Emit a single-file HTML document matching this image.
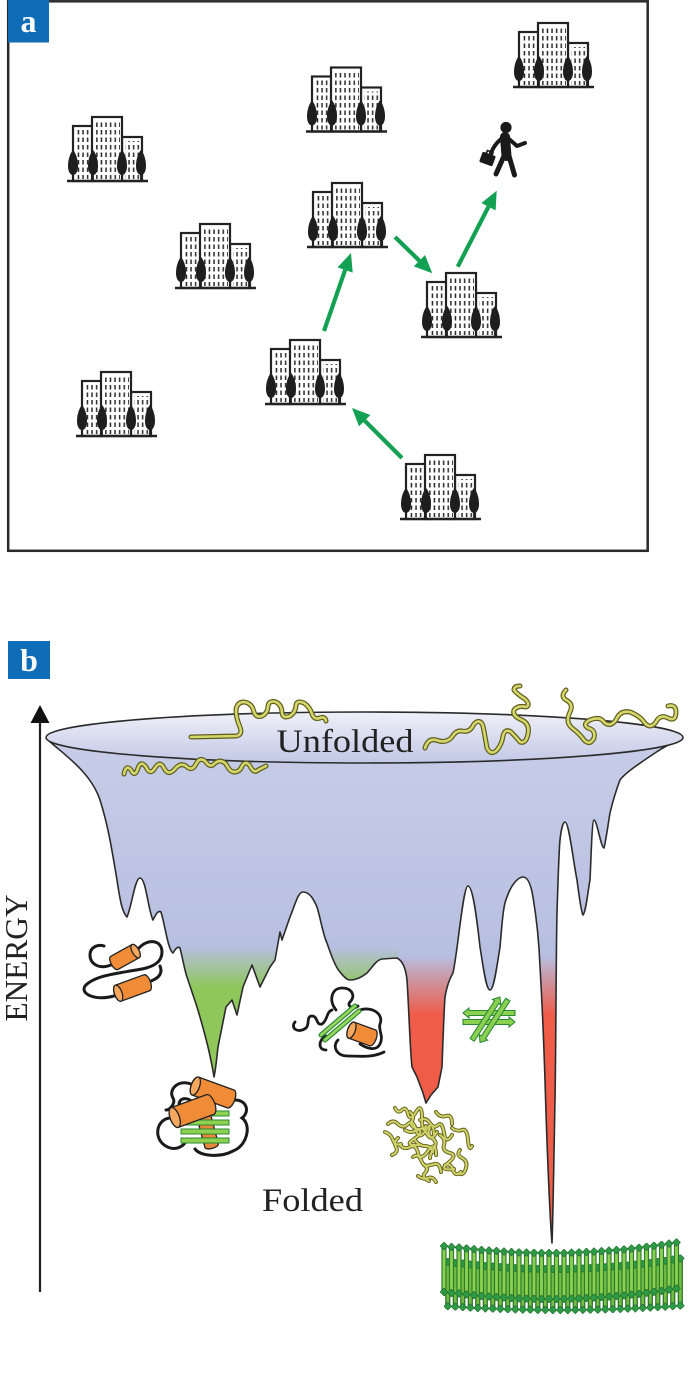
<!DOCTYPE html>
<html><head><meta charset="utf-8"><style>html,body{margin:0;padding:0;background:#fff}svg{display:block}</style></head>
<body>
<svg width="690" height="1385" viewBox="0 0 690 1385" xmlns="http://www.w3.org/2000/svg" xmlns:xlink="http://www.w3.org/1999/xlink" font-family="'Liberation Serif', serif">
<defs>
  <pattern id="win" patternUnits="userSpaceOnUse" width="4.6" height="7.5">
    <rect x="1.5" y="1.5" width="1.5" height="4.5" fill="#2a2a2a"/>
  </pattern>
  <g id="bld">
    <rect x="6" y="-55" width="20" height="55" fill="#fff" stroke="#222" stroke-width="2.2"/>
    <rect x="55" y="-44" width="20" height="44" fill="#fff" stroke="#222" stroke-width="2.2"/>
    <rect x="25" y="-64" width="30" height="64" fill="#fff" stroke="#222" stroke-width="2.2"/>
    <rect x="9" y="-51" width="15" height="49" fill="url(#win)"/>
    <rect x="28" y="-60" width="25" height="58" fill="url(#win)"/>
    <rect x="58" y="-40" width="15" height="38" fill="url(#win)"/>
    <g fill="#1e1e1e" stroke="#1e1e1e">
      <path d="M6,-31 C8,-29 11,-23 11,-15 C11,-9 8.5,-6 6,-6 C3.5,-6 1,-9 1,-15 C1,-23 4,-29 6,-31 Z" stroke="none"/>
      <path d="M26,-31 C28,-29 31,-23 31,-15 C31,-9 28.5,-6 26,-6 C23.5,-6 21,-9 21,-15 C21,-23 24,-29 26,-31 Z" stroke="none"/>
      <path d="M55,-31 C57,-29 60,-23 60,-15 C60,-9 57.5,-6 55,-6 C52.5,-6 50,-9 50,-15 C50,-23 53,-29 55,-31 Z" stroke="none"/>
      <path d="M74,-31 C76,-29 79,-23 79,-15 C79,-9 76.5,-6 74,-6 C71.5,-6 69,-9 69,-15 C69,-23 72,-29 74,-31 Z" stroke="none"/>
      <path d="M6,-8V0M26,-8V0M55,-8V0M74,-8V0" fill="none" stroke-width="1.8"/>
    </g>
    <line x1="0" y1="0" x2="81" y2="0" stroke="#222" stroke-width="2.6"/>
  </g>
  <linearGradient id="bodyG" gradientUnits="userSpaceOnUse" x1="0" y1="740" x2="0" y2="1000">
    <stop offset="0" stop-color="#c7cde8"/><stop offset="1" stop-color="#b4bcdf"/>
  </linearGradient>
  <linearGradient id="rimG" gradientUnits="userSpaceOnUse" x1="0" y1="712" x2="0" y2="763">
    <stop offset="0" stop-color="#eff0f8"/><stop offset="1" stop-color="#c2c8e6"/>
  </linearGradient>
  <linearGradient id="gG" gradientUnits="userSpaceOnUse" x1="0" y1="947" x2="0" y2="988">
    <stop offset="0" stop-color="#8fc75a" stop-opacity="0"/><stop offset="1" stop-color="#8fc75a" stop-opacity="1"/>
  </linearGradient>
  <linearGradient id="rG" gradientUnits="userSpaceOnUse" x1="0" y1="956" x2="0" y2="1015">
    <stop offset="0" stop-color="#ef5c48" stop-opacity="0"/><stop offset="1" stop-color="#ef5c48" stop-opacity="1"/>
  </linearGradient>
  <clipPath id="fc">
    <path d="M46,738 C60,752 90,770 100,800 C108,825 112,850 117,880 C120,900 122,912 127,917 C132,905 135,878 140,878 C146,878 148,910 153,920 C156,914 158,910 161,912 C165,925 168,950 173,953 C176,948 178,946 180,948 C183,960 185,972 187,977 L197,1007 C201,1020 205,1035 208,1047 C211,1060 213,1070 214,1077 C216,1068 217,1055 218,1047 L226,1007 L232,1000 L237,1015 L243,987 L252,965 L260,987 L270,967 L275,960 L280,932 L282,940 L290,917 C295,905 298,892 303,892 C310,892 314,900 317,907 C321,920 323,935 327,943 C332,958 336,968 340,972 C344,977 347,980 350,980 C356,980 362,977 367,973 C372,968 376,960 382,959 L397,958 C403,961 406,970 407,980 C409,1010 410,1050 412,1067 L417,1077 L423,1093 L426,1103 L431,1095 L438,1087 L442,1067 C443,1040 444,1010 445,997 C447,985 450,978 453,973 C458,950 463,886 468,886 C473,886 477,920 480,947 C483,965 486,990 490,990 C494,990 497,965 500,947 C502,925 503,905 507,897 C511,885 518,877 523,877 C528,877 531,885 533,897 C536,915 539,940 540,967 C542,1000 544,1050 545,1080 C547,1150 550,1220 552,1243 C553,1220 554,1150 555,1100 C556,1050 556,950 557,913 C558,880 559,850 560,840 C561,830 563,822 565,822 C569,822 573,860 577,880 C579,895 581,912 583,915 C586,912 588,890 590,880 C591,860 592,820 594,820 C597,820 601,848 604,848 C606,840 608,825 610,813 C613,800 617,788 620,780 C625,773 640,763 655,753 C665,746 676,741 683,738 A318.5,26 0 0 0 46,738 Z"/>
  </clipPath>
  <marker id="dh" markerUnits="userSpaceOnUse" markerWidth="8" markerHeight="8" refX="4" refY="4" orient="auto">
    <path d="M0,4 L4,0 L8,4 L4,8 Z" fill="#2f9a45" stroke="#1d6b2a" stroke-width="0.6"/>
  </marker>
</defs>

<!-- ================= PANEL A ================= -->
<rect x="8.2" y="1.3" width="639.5" height="549.5" fill="#fff" stroke="#2a2a2a" stroke-width="2.5"/>
<rect x="8" y="0" width="41" height="42.5" fill="#0f6cb6"/>
<text x="28.5" y="32" font-size="32" font-weight="bold" fill="#fff" text-anchor="middle">a</text>

<use xlink:href="#bld" href="#bld" transform="translate(67,181)"/>
<use xlink:href="#bld" href="#bld" transform="translate(175,288)"/>
<use xlink:href="#bld" href="#bld" transform="translate(76,436)"/>
<use xlink:href="#bld" href="#bld" transform="translate(306,131.5)"/>
<use xlink:href="#bld" href="#bld" transform="translate(307,247)"/>
<use xlink:href="#bld" href="#bld" transform="translate(513,87)"/>
<use xlink:href="#bld" href="#bld" transform="translate(421,337)"/>
<use xlink:href="#bld" href="#bld" transform="translate(265,404)"/>
<use xlink:href="#bld" href="#bld" transform="translate(400,519)"/>

<!-- person -->
<g fill="none" stroke="#1a1a1a" stroke-linecap="round" stroke-linejoin="round">
  <circle cx="506" cy="127.5" r="5.6" fill="#1a1a1a" stroke="none"/>
  <path d="M505,137 L506.5,156" stroke-width="10"/>
  <path d="M504,156 L496,174" stroke-width="5"/>
  <path d="M509,156 L514.5,175" stroke-width="5"/>
  <path d="M509,139 L517,146 L525,143" stroke-width="4"/>
  <path d="M501,139 Q494,145 491,153" stroke-width="4"/>
  <g transform="translate(487.5,159) rotate(20)">
    <rect x="-7" y="-5.5" width="14" height="11" rx="1.5" fill="#1a1a1a" stroke="none"/>
    <path d="M-3,-5 v-3 h6 v3" stroke-width="1.6"/>
  </g>
</g>

<!-- green arrows -->
<g stroke="#13a052" stroke-width="4.2" fill="#13a052">
  <line x1="402" y1="458" x2="364.7" y2="420.7"/>
  <polygon points="352,408 370.4,415 359,426.4" stroke="none"/>
  <line x1="324" y1="331" x2="345.1" y2="270"/>
  <polygon points="351,253 352.7,272.6 337.5,267.4" stroke="none"/>
  <line x1="395" y1="237" x2="419.4" y2="260.7"/>
  <polygon points="432.3,273.3 413.8,266.4 425,255" stroke="none"/>
  <line x1="457.7" y1="266.7" x2="488.5" y2="206.7"/>
  <polygon points="496.7,190.7 495.6,210.4 481.4,203" stroke="none"/>
</g>

<!-- ================= PANEL B ================= -->
<rect x="8" y="641" width="42" height="38" fill="#0f6cb6"/>
<text x="29" y="671" font-size="32" font-weight="bold" fill="#fff" text-anchor="middle">b</text>

<!-- axis -->
<line x1="40" y1="720" x2="40" y2="1292" stroke="#222" stroke-width="2.2"/>
<polygon points="40,705 30.5,723 49.5,723" fill="#111"/>
<text transform="translate(27,958) rotate(-90)" font-size="32" fill="#222" text-anchor="middle" textLength="127" lengthAdjust="spacingAndGlyphs">ENERGY</text>

<!-- funnel body -->
<path fill="url(#bodyG)" d="M46,738 C60,752 90,770 100,800 C108,825 112,850 117,880 C120,900 122,912 127,917 C132,905 135,878 140,878 C146,878 148,910 153,920 C156,914 158,910 161,912 C165,925 168,950 173,953 C176,948 178,946 180,948 C183,960 185,972 187,977 L197,1007 C201,1020 205,1035 208,1047 C211,1060 213,1070 214,1077 C216,1068 217,1055 218,1047 L226,1007 L232,1000 L237,1015 L243,987 L252,965 L260,987 L270,967 L275,960 L280,932 L282,940 L290,917 C295,905 298,892 303,892 C310,892 314,900 317,907 C321,920 323,935 327,943 C332,958 336,968 340,972 C344,977 347,980 350,980 C356,980 362,977 367,973 C372,968 376,960 382,959 L397,958 C403,961 406,970 407,980 C409,1010 410,1050 412,1067 L417,1077 L423,1093 L426,1103 L431,1095 L438,1087 L442,1067 C443,1040 444,1010 445,997 C447,985 450,978 453,973 C458,950 463,886 468,886 C473,886 477,920 480,947 C483,965 486,990 490,990 C494,990 497,965 500,947 C502,925 503,905 507,897 C511,885 518,877 523,877 C528,877 531,885 533,897 C536,915 539,940 540,967 C542,1000 544,1050 545,1080 C547,1150 550,1220 552,1243 C553,1220 554,1150 555,1100 C556,1050 556,950 557,913 C558,880 559,850 560,840 C561,830 563,822 565,822 C569,822 573,860 577,880 C579,895 581,912 583,915 C586,912 588,890 590,880 C591,860 592,820 594,820 C597,820 601,848 604,848 C606,840 608,825 610,813 C613,800 617,788 620,780 C625,773 640,763 655,753 C665,746 676,741 683,738 A318.5,26 0 0 0 46,738 Z"/>
<g clip-path="url(#fc)">
  <rect x="150" y="930" width="248" height="170" fill="url(#gG)"/>
  <rect x="398" y="930" width="62" height="190" fill="url(#rG)"/>
  <rect x="536" y="930" width="30" height="330" fill="url(#rG)"/>
</g>
<path fill="none" stroke="#2b2b2b" stroke-width="1.6" stroke-linejoin="round" d="M46,738 C60,752 90,770 100,800 C108,825 112,850 117,880 C120,900 122,912 127,917 C132,905 135,878 140,878 C146,878 148,910 153,920 C156,914 158,910 161,912 C165,925 168,950 173,953 C176,948 178,946 180,948 C183,960 185,972 187,977 L197,1007 C201,1020 205,1035 208,1047 C211,1060 213,1070 214,1077 C216,1068 217,1055 218,1047 L226,1007 L232,1000 L237,1015 L243,987 L252,965 L260,987 L270,967 L275,960 L280,932 L282,940 L290,917 C295,905 298,892 303,892 C310,892 314,900 317,907 C321,920 323,935 327,943 C332,958 336,968 340,972 C344,977 347,980 350,980 C356,980 362,977 367,973 C372,968 376,960 382,959 L397,958 C403,961 406,970 407,980 C409,1010 410,1050 412,1067 L417,1077 L423,1093 L426,1103 L431,1095 L438,1087 L442,1067 C443,1040 444,1010 445,997 C447,985 450,978 453,973 C458,950 463,886 468,886 C473,886 477,920 480,947 C483,965 486,990 490,990 C494,990 497,965 500,947 C502,925 503,905 507,897 C511,885 518,877 523,877 C528,877 531,885 533,897 C536,915 539,940 540,967 C542,1000 544,1050 545,1080 C547,1150 550,1220 552,1243 C553,1220 554,1150 555,1100 C556,1050 556,950 557,913 C558,880 559,850 560,840 C561,830 563,822 565,822 C569,822 573,860 577,880 C579,895 581,912 583,915 C586,912 588,890 590,880 C591,860 592,820 594,820 C597,820 601,848 604,848 C606,840 608,825 610,813 C613,800 617,788 620,780 C625,773 640,763 655,753 C665,746 676,741 683,738"/>
<ellipse cx="364.5" cy="737.5" rx="318.5" ry="25.5" fill="url(#rimG)" stroke="#2b2b2b" stroke-width="1.6"/>

<!-- unfolded chains -->
<g fill="none" stroke-linecap="round" stroke-linejoin="round">
  <g stroke="#5f5c1c" stroke-width="5">
    <path d="M124,774 Q126,764 131,770 Q135,778 138,768 Q141,760 146,767 Q150,776 155,768 Q160,760 164,768 Q168,776 174,770 Q180,762 186,766 Q192,772 196,764 Q200,756 206,762 Q210,768 214,764 Q220,758 226,764 Q230,772 234,772 Q240,772 242,766 Q246,760 250,766 Q254,774 258,770 L266,766"/>
    <path d="M191,737 L236,736 Q243,735 240,727 Q236,718 236,710 Q237,702 244,702 Q252,703 254,712 Q256,718 262,716 Q268,713 268,706 Q269,700 276,702 Q282,705 282,713 Q283,719 290,716 Q296,712 296,705 Q297,700 304,703 Q310,707 312,714 Q314,720 320,718 Q325,716 326,721"/>
    <path d="M425,748 Q428,738 436,740 Q446,744 452,737 Q456,730 462,731 Q470,733 474,724 Q480,718 483,726 Q485,736 487,748 Q491,756 497,750 Q502,744 503,736 Q505,728 511,732 Q517,738 520,742 Q526,744 528,734 Q530,724 522,720 Q512,716 514,710 Q518,705 526,707 Q531,705 525,699 Q517,694 514,690 Q514,686 520,686"/>
    <path d="M566,690 Q560,696 566,700 Q574,704 570,712 Q565,722 572,728 Q580,734 584,740 Q590,746 594,738 Q596,730 588,728 Q582,724 590,720 Q600,716 604,722 Q610,728 616,720 Q620,710 630,712 Q640,716 644,722 Q650,730 656,722 Q660,714 668,718 Q676,722 676,712 Q676,704 668,706"/>
  </g>
  <g stroke="#d4d76c" stroke-width="2.6">
    <path d="M124,774 Q126,764 131,770 Q135,778 138,768 Q141,760 146,767 Q150,776 155,768 Q160,760 164,768 Q168,776 174,770 Q180,762 186,766 Q192,772 196,764 Q200,756 206,762 Q210,768 214,764 Q220,758 226,764 Q230,772 234,772 Q240,772 242,766 Q246,760 250,766 Q254,774 258,770 L266,766"/>
    <path d="M191,737 L236,736 Q243,735 240,727 Q236,718 236,710 Q237,702 244,702 Q252,703 254,712 Q256,718 262,716 Q268,713 268,706 Q269,700 276,702 Q282,705 282,713 Q283,719 290,716 Q296,712 296,705 Q297,700 304,703 Q310,707 312,714 Q314,720 320,718 Q325,716 326,721"/>
    <path d="M425,748 Q428,738 436,740 Q446,744 452,737 Q456,730 462,731 Q470,733 474,724 Q480,718 483,726 Q485,736 487,748 Q491,756 497,750 Q502,744 503,736 Q505,728 511,732 Q517,738 520,742 Q526,744 528,734 Q530,724 522,720 Q512,716 514,710 Q518,705 526,707 Q531,705 525,699 Q517,694 514,690 Q514,686 520,686"/>
    <path d="M566,690 Q560,696 566,700 Q574,704 570,712 Q565,722 572,728 Q580,734 584,740 Q590,746 594,738 Q596,730 588,728 Q582,724 590,720 Q600,716 604,722 Q610,728 616,720 Q620,710 630,712 Q640,716 644,722 Q650,730 656,722 Q660,714 668,718 Q676,722 676,712 Q676,704 668,706"/>
  </g>
</g>

<text x="345" y="752" font-size="33" fill="#222" text-anchor="middle" textLength="137" lengthAdjust="spacingAndGlyphs">Unfolded</text>
<text x="312.5" y="1211" font-size="33" fill="#222" text-anchor="middle" textLength="101" lengthAdjust="spacingAndGlyphs">Folded</text>

<!-- protein A: two helices -->
<g fill="none" stroke="#1a1a1a" stroke-width="3" stroke-linecap="round">
  <path d="M111,965 C98,970 90,963 90,955 C90,947 98,944 104,946"/>
  <path d="M139,948 C148,938 162,940 162,952 C162,963 152,967 142,969 C120,973 95,975 85,986 C80,994 95,1001 114,996"/>
  <path d="M151,981 C159,978 163,973 160,966"/>
</g>
<g stroke="#222" stroke-width="1.3">
  <g transform="translate(125,957) rotate(-29)"><rect x="-15.5" y="-7.5" width="31" height="15" rx="3.4" ry="7.5" fill="#f08c38"/><ellipse cx="12.1" cy="0" rx="3.4" ry="7.5" fill="#f6a85e"/></g>
  <g transform="translate(132.5,988) rotate(-20)"><rect x="-19" y="-8.5" width="38" height="17" rx="3.8" ry="8.5" fill="#f08c38"/><ellipse cx="-15.2" cy="0" rx="3.8" ry="8.5" fill="#f6a85e"/></g>
</g>

<!-- protein B -->
<g fill="none" stroke="#1a1a1a" stroke-width="3" stroke-linecap="round">
  <path d="M191,1084 C178,1079 168,1090 173,1098 C176,1103 170,1110 166,1110"/>
  <path d="M235,1100 C247,1100 250,1112 242,1118 C252,1125 247,1146 233,1151 C220,1158 200,1156 195,1149"/>
  <path d="M171,1118 C158,1118 153,1135 163,1144 C171,1151 180,1149 185,1143"/>
  <path d="M183,1112 C175,1105 180,1095 190,1100"/>
</g>
<g stroke="#222" stroke-width="1.3">
  <g transform="translate(208,1132) rotate(75)"><rect x="-17" y="-7" width="34" height="14" rx="3" ry="7" fill="#e8873a"/></g>
</g>
<g fill="#8fd14f" stroke="#2a8a35" stroke-width="1">
  <rect x="181" y="1111" width="48" height="5"/>
  <rect x="181" y="1120" width="48" height="5"/>
  <rect x="181" y="1129" width="48" height="5"/>
  <rect x="181" y="1138" width="48" height="5"/>
</g>
<g stroke="#222" stroke-width="1.3">
  <g transform="translate(213,1092.5) rotate(20)"><rect x="-23" y="-9.5" width="46" height="19" rx="4.2" ry="9.5" fill="#f08c38"/><ellipse cx="-18.8" cy="0" rx="4.2" ry="9.5" fill="#f6a85e"/></g>
  <g transform="translate(192.5,1111) rotate(-20)"><rect x="-23.5" y="-10.5" width="47" height="21" rx="4.6" ry="10.5" fill="#f08c38"/><ellipse cx="-18.9" cy="0" rx="4.6" ry="10.5" fill="#f6a85e"/></g>
</g>

<!-- protein C -->
<g fill="none" stroke="#1a1a1a" stroke-width="2.8" stroke-linecap="round">
  <path d="M295,1022 C290,1028 298,1034 306,1028 C310,1024 306,1016 312,1016 C318,1016 316,1026 322,1024 C328,1020 326,1012 332,1010"/>
  <path d="M336,1010 C328,1000 332,988 342,988 C352,988 356,996 350,1002 C346,1006 354,1010 358,1006"/>
  <path d="M360,1010 C372,1006 384,1014 380,1024 C378,1030 384,1036 380,1044 C376,1052 366,1048 360,1044"/>
  <path d="M338,1040 C332,1046 336,1056 348,1056 C360,1056 372,1058 384,1052"/>
  <path d="M326,1036 C318,1040 318,1050 326,1050"/>
</g>
<g stroke-linecap="round">
  <path d="M321,1035 L355,1006 M325,1040 L359,1011" stroke="#2a8a35" stroke-width="5"/>
  <path d="M321,1035 L355,1006 M325,1040 L359,1011" stroke="#9ad55e" stroke-width="2.6"/>
</g>
<g stroke="#222" stroke-width="1.3">
  <g transform="translate(362,1034) rotate(20)"><rect x="-15" y="-8.5" width="30" height="17" rx="3.8" ry="8.5" fill="#f08c38"/><ellipse cx="-11.2" cy="0" rx="3.8" ry="8.5" fill="#f6a85e"/></g>
</g>

<!-- protein D: beta cross -->
<g fill="#8cd050" stroke="#2a8a35" stroke-width="1.1">
  <polygon points="515,1010.5 469,1010.5 469,1008 463,1013 469,1018 469,1015.5 515,1015.5"/>
  <polygon points="463,1019.5 509,1019.5 509,1017 515,1022 509,1027 509,1024.5 463,1024.5"/>
  <g transform="translate(486,1018.5) rotate(-57)"><polygon points="-25.5,-2.5 19.5,-2.5 19.5,-5 25.5,0 19.5,5 19.5,2.5 -25.5,2.5"/></g>
  <g transform="translate(494,1021) rotate(123)"><polygon points="-25.5,-2.5 19.5,-2.5 19.5,-5 25.5,0 19.5,5 19.5,2.5 -25.5,2.5"/></g>
</g>

<!-- protein E: amorphous aggregate -->
<g fill="none" stroke-linecap="round" stroke-linejoin="round">
  <g stroke="#6a6620" stroke-width="4">
    <path d="M395,1108 q3,6 7,2 t6,4 t8,-2 t6,6 t4,8"/>
    <path d="M410,1112 q5,4 2,9 t5,8 t-3,10 t6,6"/>
    <path d="M420,1120 q6,-3 10,3 t8,2 t6,8 t8,2"/>
    <path d="M388,1124 q5,-5 10,0 t10,0 t8,6 t10,0 t8,4"/>
    <path d="M400,1145 q4,5 10,2 t8,6 t10,-2 t8,4"/>
    <path d="M413,1157 q5,-4 8,3 t6,6 t8,-2 t6,8"/>
    <path d="M425,1165 q4,4 0,8 t4,8"/>
    <path d="M440,1135 q6,4 4,10 t6,8 t-2,10 t6,6"/>
    <path d="M452,1128 q5,4 10,2 t6,10 t4,6"/>
    <path d="M430,1128 q-4,6 2,10 t2,10 t-4,10"/>
    <path d="M398,1138 q-5,4 -2,9 t-4,8"/>
    <path d="M460,1150 q-4,5 2,8 t4,10 t-6,6"/>
    <path d="M418,1176 q5,4 10,2 t8,4"/>
    <path d="M385,1132 q6,2 8,8 t8,4"/>
    <path d="M436,1112 q4,6 10,4 t6,8"/>
    <path d="M445,1165 q6,-2 8,5 t8,2"/>
    <path d="M405,1130 q6,4 12,0 t10,4 t10,-2"/>
    <path d="M415,1140 q4,6 10,6 t8,6"/>
  </g>
  <g stroke="#cfd36a" stroke-width="2">
    <path d="M395,1108 q3,6 7,2 t6,4 t8,-2 t6,6 t4,8"/>
    <path d="M410,1112 q5,4 2,9 t5,8 t-3,10 t6,6"/>
    <path d="M420,1120 q6,-3 10,3 t8,2 t6,8 t8,2"/>
    <path d="M388,1124 q5,-5 10,0 t10,0 t8,6 t10,0 t8,4"/>
    <path d="M400,1145 q4,5 10,2 t8,6 t10,-2 t8,4"/>
    <path d="M413,1157 q5,-4 8,3 t6,6 t8,-2 t6,8"/>
    <path d="M425,1165 q4,4 0,8 t4,8"/>
    <path d="M440,1135 q6,4 4,10 t6,8 t-2,10 t6,6"/>
    <path d="M452,1128 q5,4 10,2 t6,10 t4,6"/>
    <path d="M430,1128 q-4,6 2,10 t2,10 t-4,10"/>
    <path d="M398,1138 q-5,4 -2,9 t-4,8"/>
    <path d="M460,1150 q-4,5 2,8 t4,10 t-6,6"/>
    <path d="M418,1176 q5,4 10,2 t8,4"/>
    <path d="M385,1132 q6,2 8,8 t8,4"/>
    <path d="M436,1112 q4,6 10,4 t6,8"/>
    <path d="M445,1165 q6,-2 8,5 t8,2"/>
    <path d="M405,1130 q6,4 12,0 t10,4 t10,-2"/>
    <path d="M415,1140 q4,6 10,6 t8,6"/>
  </g>
</g>

<!-- fibril: back layer -->
<g fill="none">
  <path stroke="#236f2a" stroke-width="5.2" d="M447.8 1262v44.2M455.3 1263v43.7M462.8 1263.5v43.6M470.3 1264.4v43.2M477.8 1265.2v42.8M485.3 1266v42.3M492.8 1266.5v42.1M500.3 1267v41.9M507.8 1267.6v41.6M515.3 1268v41.4M522.8 1268.4v41.2M530.3 1268.6v41.1M537.8 1268.8v41.1M545.3 1269v40.9M552.8 1269v41M560.3 1269v41M567.8 1269v41M575.3 1268.7v41.2M582.8 1268.4v41.4M590.3 1268v41.7M597.8 1267.7v41.9M605.3 1267.2v42.2M612.8 1266.7v42.5M620.3 1266v42.9M627.8 1265.4v43.2M635.3 1264.6v43.7M642.8 1263.8v44.1M650.3 1262.8v44.7M657.8 1261.8v45.3M665.3 1260.8v45.9M672.8 1259.6v46.6M680.3 1258.4v47.2"/>
  <path stroke="#74bd42" stroke-width="2.8" marker-start="url(#dh)" marker-mid="url(#dh)" marker-end="url(#dh)" d="M447.8 1262v44.2M455.3 1263v43.7M462.8 1263.5v43.6M470.3 1264.4v43.2M477.8 1265.2v42.8M485.3 1266v42.3M492.8 1266.5v42.1M500.3 1267v41.9M507.8 1267.6v41.6M515.3 1268v41.4M522.8 1268.4v41.2M530.3 1268.6v41.1M537.8 1268.8v41.1M545.3 1269v40.9M552.8 1269v41M560.3 1269v41M567.8 1269v41M575.3 1268.7v41.2M582.8 1268.4v41.4M590.3 1268v41.7M597.8 1267.7v41.9M605.3 1267.2v42.2M612.8 1266.7v42.5M620.3 1266v42.9M627.8 1265.4v43.2M635.3 1264.6v43.7M642.8 1263.8v44.1M650.3 1262.8v44.7M657.8 1261.8v45.3M665.3 1260.8v45.9M672.8 1259.6v46.6M680.3 1258.4v47.2"/>
</g>
<!-- fibril: front layer -->
<g fill="none">
  <path stroke="#2a7d30" stroke-width="5.2" d="M444 1246v46M451.5 1247v46M459 1247.5v46M466.5 1248.4v46M474 1249.2v46M481.5 1250v46M489 1250.5v46M496.5 1251v46M504 1251.6v46M511.5 1252v46M519 1252.4v46M526.5 1252.6v46M534 1252.8v46M541.5 1253v46M549 1253v46M556.5 1253v46M564 1253v46M571.5 1252.7v46M579 1252.4v46M586.5 1252v46M594 1251.7v46M601.5 1251.2v46M609 1250.7v46M616.5 1250v46M624 1249.4v46M631.5 1248.6v46M639 1247.8v46M646.5 1246.8v46M654 1245.8v46M661.5 1244.8v46M669 1243.6v46M676.5 1242.4v46"/>
  <path stroke="#8ed14e" stroke-width="2.8" marker-start="url(#dh)" marker-mid="url(#dh)" marker-end="url(#dh)" d="M444 1246v46M451.5 1247v46M459 1247.5v46M466.5 1248.4v46M474 1249.2v46M481.5 1250v46M489 1250.5v46M496.5 1251v46M504 1251.6v46M511.5 1252v46M519 1252.4v46M526.5 1252.6v46M534 1252.8v46M541.5 1253v46M549 1253v46M556.5 1253v46M564 1253v46M571.5 1252.7v46M579 1252.4v46M586.5 1252v46M594 1251.7v46M601.5 1251.2v46M609 1250.7v46M616.5 1250v46M624 1249.4v46M631.5 1248.6v46M639 1247.8v46M646.5 1246.8v46M654 1245.8v46M661.5 1244.8v46M669 1243.6v46M676.5 1242.4v46"/>
</g>
</svg>
</body></html>
